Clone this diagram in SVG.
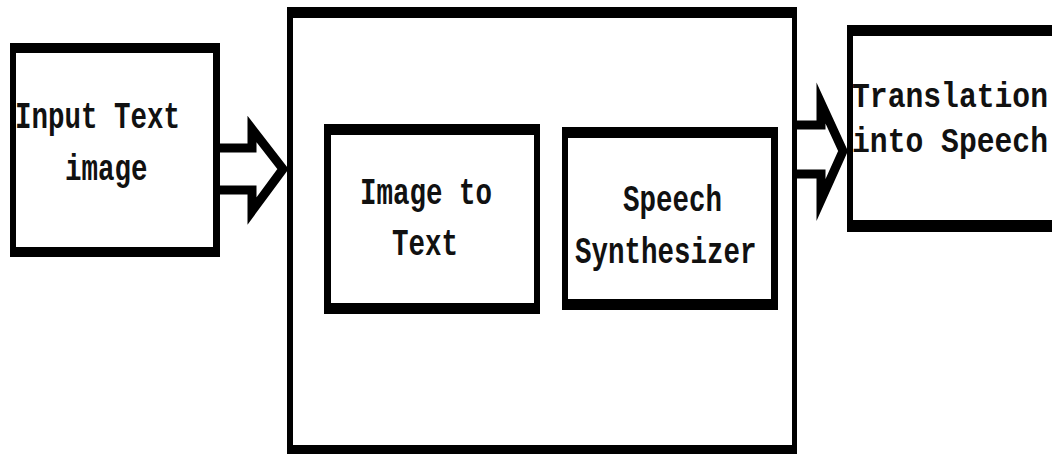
<svg xmlns="http://www.w3.org/2000/svg" width="1052" height="454" viewBox="0 0 1052 454">
<style>
.frame{fill:#000}
.inner{fill:#fff}
.lbl{font-family:"Liberation Mono","Courier New",monospace;font-weight:bold;font-size:27.5px;fill:#111}
.arrow{fill:#fff;stroke:#000;stroke-width:9;stroke-linejoin:miter;stroke-miterlimit:10}
</style>
<rect width="1052" height="454" fill="#fff"/>
<g id="connectors">
<polyline class="arrow" points="216,148 252,148 252,129 283,169 252,211 252,190 216,190"/>
<polyline class="arrow" points="794,125 821,125 821,103 843,151 821,200 821,174 794,174"/>
</g>
<g id="input">
<rect class="frame" x="10" y="43" width="210" height="214"/>
<rect class="inner" x="16" y="53" width="197" height="194"/>
<text class="lbl" transform="translate(15,128) scale(1,1.35)">Input Text</text>
<text class="lbl" transform="translate(65,180) scale(1,1.35)">image</text>
</g>
<g id="system">
<rect class="frame" x="287" y="7" width="510" height="460"/>
<rect class="inner" x="293" y="18" width="499" height="427"/>
</g>
<g id="image-to-text">
<rect class="frame" x="324" y="124" width="216" height="190"/>
<rect class="inner" x="331" y="135" width="203" height="168"/>
<text class="lbl" transform="translate(360,204) scale(1,1.35)">Image to</text>
<text class="lbl" transform="translate(392,255) scale(1,1.35)">Text</text>
</g>
<g id="speech-synth">
<rect class="frame" x="562" y="127" width="216" height="183"/>
<rect class="inner" x="568" y="138" width="203" height="161"/>
<text class="lbl" transform="translate(623,211) scale(1,1.35)">Speech</text>
<text class="lbl" transform="translate(575,263) scale(1,1.35)">Synthesizer</text>
</g>
<g id="output">
<rect class="frame" x="847" y="25" width="215" height="207"/>
<rect class="inner" x="853" y="36" width="209" height="184"/>
<text class="lbl" style="font-size:29.7px" transform="translate(852,107) scale(1,1.2)">Translation</text>
<text class="lbl" style="font-size:29.7px" transform="translate(852,152) scale(1,1.2)">into Speech</text>
</g>
</svg>
